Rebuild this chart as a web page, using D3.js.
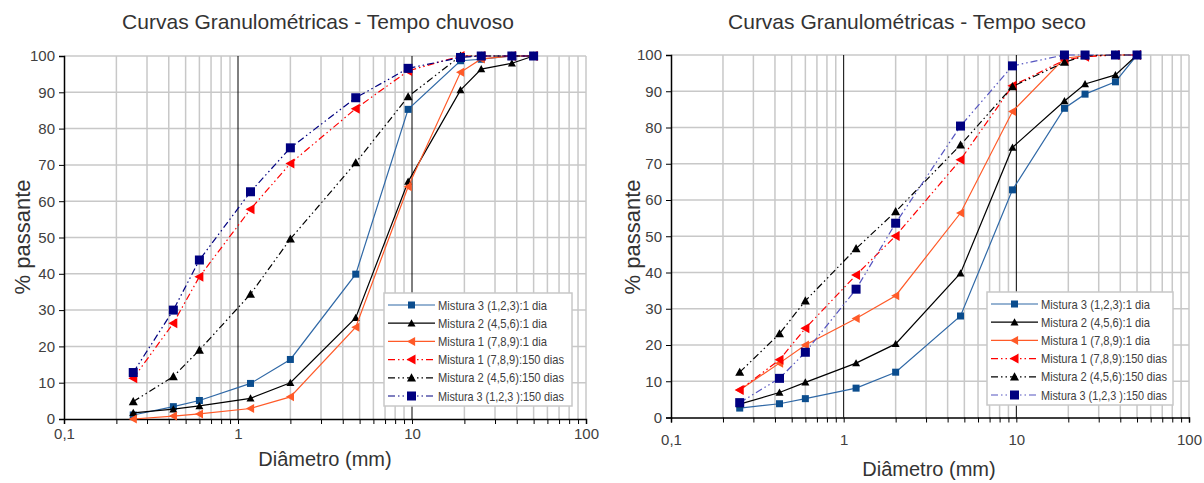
<!DOCTYPE html>
<html>
<head>
<meta charset="utf-8">
<script src="https://cdn.jsdelivr.net/npm/d3@7"></script>
<style>
  body { margin: 0; background: #fff; }
  svg { display: block; font-family: "Liberation Sans", Arial, sans-serif; }
</style>
</head>
<body>
<div id="chart"></div>
<script>
// sieve openings (mm)
const sieves = [0.25, 0.425, 0.6, 1.18, 2, 4.75, 9.5, 19, 25, 37.5, 50];

const seriesNames = [
  "Mistura 3 (1,2,3):1 dia",
  "Mistura 2 (4,5,6):1 dia",
  "Mistura 1 (7,8,9):1 dia",
  "Mistura 1 (7,8,9):150 dias",
  "Mistura 2 (4,5,6):150 dias",
  "Mistura 3 (1,2,3 ):150 dias"
];

// Tempo chuvoso
const chuvosoM3_1 = [1.1, 3.4, 5.1, 9.8, 16.4, 39.9, 85.3, 98.7, 99.1, 100, 100];
const chuvosoM2_1 = [1.7, 2.7, 3.6, 5.7, 10.0, 27.9, 65.4, 90.6, 96.4, 98.0, 100];
const chuvosoM1_1 = [0.0, 0.8, 1.4, 2.9, 6.1, 25.3, 64.0, 95.5, 99.2, 100, 100];
const chuvosoM1_150 = [11.2, 26.4, 39.2, 57.8, 70.4, 85.5, 95.9, 100, 100, 100, 100];
const chuvosoM2_150 = [4.8, 11.7, 19.0, 34.4, 49.6, 70.6, 88.8, 100, 100, 100, 100];
const chuvosoM3_150 = [12.8, 30.0, 43.8, 62.6, 74.7, 88.5, 96.6, 99.6, 100, 100, 100];

// Tempo seco
const secoM3_1 = [2.6, 3.8, 5.2, 8.1, 12.5, 28.0, 62.8, 85.3, 89.2, 92.6, 100];
const secoM2_1 = [3.7, 6.9, 9.7, 15.0, 20.3, 39.8, 74.5, 87.3, 92.0, 94.5, 100];
const secoM1_1 = [7.6, 15.0, 20.0, 27.3, 33.6, 56.4, 84.4, 99.1, 99.8, 100, 100];
const secoM1_150 = [7.6, 15.9, 24.6, 39.3, 50.1, 71.1, 91.5, 98.6, 99.5, 100, 100];
const secoM2_150 = [12.5, 23.1, 32.2, 46.6, 56.8, 75.2, 91.3, 98.0, 99.8, 100, 100];
const secoM3_150 = [4.1, 10.8, 18.0, 35.4, 53.6, 80.4, 97.0, 100, 100, 100, 100];

const yTicks = d3.range(0, 101, 10);
const xLabelled = [0.1, 1, 10, 100];

const ptBR = d3.formatLocale({decimal: ",", thousands: ".", grouping: [3], currency: ["R$", ""]});
const fmt = ptBR.format("~g");

const DASH = "7,3,1.5,3,1.5,3";

function styles(navyLine) {
  return [
    {line: "#2f68a6", fill: "#0b4d8e", shape: "square", size: 7, dash: null},
    {line: "#000", fill: "#000", shape: "up", size: 8, dash: null},
    {line: "#ff5a28", fill: "#ff5a28", shape: "left", size: 9, dash: null},
    {line: "#ff0000", fill: "#ff0000", shape: "left", size: 10, dash: DASH},
    {line: "#000", fill: "#000", shape: "up", size: 9, dash: DASH},
    {line: navyLine, fill: "#000080", shape: "square", size: 9, dash: DASH}
  ];
}

function marker(g, s, cx, cy) {
  const h = s.size / 2;
  if (s.shape === "square") {
    g.append("rect").attr("x", cx - h).attr("y", cy - h)
      .attr("width", s.size).attr("height", s.size).attr("fill", s.fill);
  } else if (s.shape === "up") {
    g.append("path").attr("d", `M${cx},${cy - h}L${cx + h},${cy + h * 0.8}L${cx - h},${cy + h * 0.8}Z`).attr("fill", s.fill);
  } else {
    g.append("path").attr("d", `M${cx - h},${cy}L${cx + h * 0.8},${cy - h}L${cx + h * 0.8},${cy + h}Z`).attr("fill", s.fill);
  }
}

const svg = d3.select("#chart").append("svg")
  .attr("width", 1204).attr("height", 483);

function drawChart(cfg) {
  const x = d3.scaleLog().domain([0.1, 100]).range([cfg.left, cfg.right]);
  const y = d3.scaleLinear().domain([0, 100]).range([cfg.bottom, cfg.top]);
  const g = svg.append("g");
  const xTicks = x.ticks();

  // grid
  g.append("g").selectAll("line").data(yTicks.slice(1)).join("line")
    .attr("x1", cfg.left).attr("x2", cfg.right)
    .attr("y1", d => y(d)).attr("y2", d => y(d))
    .attr("stroke", "#c8c8c8").attr("stroke-width", 1.5);
  g.append("g").selectAll("line").data(xTicks.slice(1)).join("line")
    .attr("x1", d => x(d)).attr("x2", d => x(d))
    .attr("y1", cfg.top).attr("y2", cfg.bottom)
    .attr("stroke", d => (d === 1 || d === 10) ? "#000" : "#c8c8c8")
    .attr("stroke-width", d => (d === 1 || d === 10) ? 1 : 1.5);

  // axes
  const ax = g.append("g").attr("transform", `translate(0,${cfg.bottom})`)
    .call(d3.axisBottom(x).tickValues(xTicks).tickSize(5).tickPadding(4)
      .tickFormat(d => xLabelled.includes(d) ? fmt(d) : ""));
  const ay = g.append("g").attr("transform", `translate(${cfg.left},0)`)
    .call(d3.axisLeft(y).tickValues(yTicks).tickSize(5).tickPadding(4).tickFormat(d3.format("d")));
  [ax, ay].forEach(a => {
    a.select(".domain").attr("stroke", "#000").attr("stroke-width", 1.5);
    a.selectAll(".tick line").attr("stroke", "#000");
    a.selectAll("text").attr("font-size", 15).attr("fill", "#404040")
      .attr("font-family", "Liberation Sans, Arial, sans-serif");
  });
  ax.selectAll("text").attr("dy", cfg.xLabelDy);

  // series
  const st = styles(cfg.navyLine);
  const line = d3.line().x(d => x(d[0])).y(d => y(d[1]));
  cfg.series.forEach((vals, i) => {
    const pts = sieves.map((s, j) => [s, vals[j]]);
    g.append("path").attr("d", line(pts)).attr("fill", "none")
      .attr("stroke", st[i].line).attr("stroke-width", 1.2)
      .attr("stroke-dasharray", st[i].dash);
    const mg = g.append("g");
    pts.forEach(p => marker(mg, st[i], x(p[0]), y(p[1])));
  });

  // titles
  svg.append("text").attr("x", cfg.titleX).attr("y", 29).attr("text-anchor", "middle")
    .attr("font-size", 21).attr("fill", "#333").text(cfg.title);
  svg.append("text").attr("x", cfg.xTitleX).attr("y", cfg.xTitleY).attr("text-anchor", "middle")
    .attr("font-size", 20).attr("fill", "#333").text("Diâmetro (mm)");
  svg.append("text").attr("transform", `translate(${cfg.yTitleX},${cfg.yTitleY}) rotate(-90)`)
    .attr("text-anchor", "middle").attr("font-size", 22).attr("fill", "#333").text("% passante");

  // legend
  const lg = svg.append("g").attr("transform", `translate(${cfg.legX},${cfg.legY})`);
  lg.append("rect").attr("width", cfg.legW).attr("height", 113)
    .attr("fill", "#fff").attr("stroke", "#c8c8c8").attr("stroke-width", 1.5);
  seriesNames.forEach((name, i) => {
    const ry = 12 + i * 18.2;
    lg.append("line").attr("x1", 4).attr("x2", 51).attr("y1", ry).attr("y2", ry)
      .attr("stroke", st[i].line).attr("stroke-width", 1.2)
      .attr("stroke-dasharray", st[i].dash);
    marker(lg, st[i], 27.5, ry);
    lg.append("text").attr("x", 54).attr("y", ry + 4.5)
      .attr("font-size", 13).attr("fill", "#404040")
      .attr("textLength", name.length > 24 ? 126 : 109).attr("lengthAdjust", "spacingAndGlyphs")
      .text(name);
  });
}

drawChart({
  left: 64, right: 586, top: 56, bottom: 419,
  title: "Curvas Granulométricas - Tempo chuvoso", titleX: 318,
  xTitleX: 325, xTitleY: 466, yTitleX: 30, yTitleY: 237,
  xLabelDy: "0.71em",
  legX: 384, legY: 293, legW: 188,
  navyLine: "#000080",
  series: [chuvosoM3_1, chuvosoM2_1, chuvosoM1_1, chuvosoM1_150, chuvosoM2_150, chuvosoM3_150]
});

drawChart({
  left: 671, right: 1189, top: 55, bottom: 417.5,
  title: "Curvas Granulométricas - Tempo seco", titleX: 907,
  xTitleX: 929, xTitleY: 476, yTitleX: 640, yTitleY: 237,
  xLabelDy: "1.2em",
  legX: 987, legY: 292, legW: 186,
  navyLine: "#5555c0",
  series: [secoM3_1, secoM2_1, secoM1_1, secoM1_150, secoM2_150, secoM3_150]
});
</script>
</body>
</html>
